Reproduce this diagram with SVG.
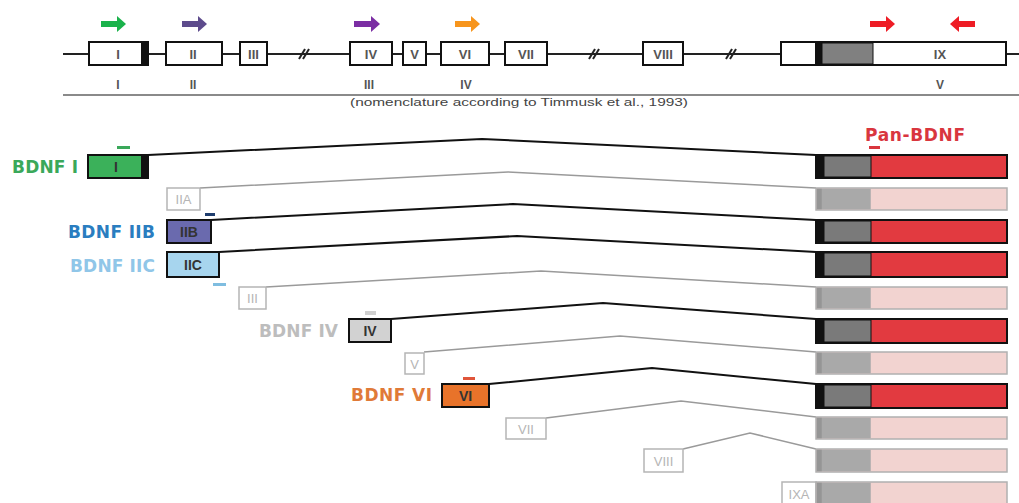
<svg xmlns="http://www.w3.org/2000/svg" width="1019" height="503" viewBox="0 0 1019 503">
<defs>
<style>
.gl{stroke:#222;stroke-width:2;fill:none}
.ex{fill:#fff;stroke:#111;stroke-width:2}
.et{font-family:"Liberation Sans",Arial,sans-serif;font-size:13px;font-weight:bold;fill:#555;text-anchor:middle}
.nt{font-family:"Liberation Sans",Arial,sans-serif;font-size:12px;font-weight:bold;fill:#555;text-anchor:middle}
.lab{font-family:"DejaVu Sans",sans-serif;font-size:17px;font-weight:bold;text-anchor:start}
.bx{stroke:#111;stroke-width:2}
.fbx{fill:#fff;stroke:#b5b5b5;stroke-width:1.5}
.ft{font-family:"Liberation Sans",Arial,sans-serif;font-size:13px;fill:#b5b5b5;text-anchor:middle}
.dt{font-family:"Liberation Sans",Arial,sans-serif;font-size:14px;font-weight:bold;fill:#333;text-anchor:middle}
.con{fill:none;stroke:#111;stroke-width:2}
.fcon{fill:none;stroke:#9a9a9a;stroke-width:1.5}
</style>
</defs>
<rect width="1019" height="503" fill="#fff"/>

<g id="genome">
<line x1="63" y1="54" x2="1019" y2="54" class="gl"/>
<g stroke="#222" stroke-width="2">
<line x1="299" y1="59" x2="305" y2="49"/><line x1="303" y1="59" x2="309" y2="49"/>
<line x1="589" y1="59" x2="595" y2="49"/><line x1="593" y1="59" x2="599" y2="49"/>
<line x1="726" y1="59" x2="732" y2="49"/><line x1="730" y1="59" x2="736" y2="49"/>
</g>
<rect x="89" y="42" width="59" height="23" class="ex"/>
<rect x="141" y="42" width="7" height="23" fill="#111"/>
<text x="118" y="58.5" class="et">I</text>
<rect x="166" y="42" width="56" height="23" class="ex"/>
<text x="193" y="58.5" class="et">II</text>
<rect x="240" y="42" width="27" height="23" class="ex"/>
<text x="253.5" y="58.5" class="et">III</text>
<rect x="350" y="42" width="42" height="23" class="ex"/>
<text x="371" y="58.5" class="et">IV</text>
<rect x="403" y="42" width="23" height="23" class="ex"/>
<text x="414.5" y="58.5" class="et">V</text>
<rect x="441" y="42" width="48" height="23" class="ex"/>
<text x="465" y="58.5" class="et">VI</text>
<rect x="505" y="42" width="42" height="23" class="ex"/>
<text x="526" y="58.5" class="et">VII</text>
<rect x="643" y="42" width="40" height="23" class="ex"/>
<text x="663" y="58.5" class="et">VIII</text>
<rect x="781" y="42" width="225" height="23" class="ex"/>
<rect x="815" y="43" width="7" height="21" fill="#111"/>
<rect x="822" y="43" width="51" height="21" fill="#808080" stroke="#111" stroke-width="1"/>
<text x="940" y="58.5" class="et">IX</text>
</g>

<g id="primers-top">
<path d="M101,21 h16 v-5 l9,8 l-9,8 v-5 h-16 z" fill="#1ab24b"/>
<path d="M182,21 h16 v-5 l9,8 l-9,8 v-5 h-16 z" fill="#5d4b8c"/>
<path d="M354,21 h17 v-5 l9,8 l-9,8 v-5 h-17 z" fill="#7b2ea3"/>
<path d="M455,21 h16 v-5 l9,8 l-9,8 v-5 h-16 z" fill="#f7951d"/>
<path d="M870,21 h16 v-5 l9,8 l-9,8 v-5 h-16 z" fill="#ee1c25"/>
<path d="M975,21 h-16 v-5 l-9,8 l9,8 v-5 h16 z" fill="#ee1c25"/>
</g>

<g id="old-nomenclature">
<text x="118" y="89" class="nt">I</text>
<text x="193" y="89" class="nt">II</text>
<text x="369" y="89" class="nt">III</text>
<text x="466" y="89" class="nt">IV</text>
<text x="940" y="89" class="nt">V</text>
<line x1="63" y1="95" x2="1019" y2="95" stroke="#8a8a8a" stroke-width="2"/>
<text x="350" y="106" font-family="Liberation Sans,Arial,sans-serif" font-size="11" fill="#444" textLength="338" lengthAdjust="spacingAndGlyphs">(nomenclature according to Timmusk et al., 1993)</text>
</g>

<g id="connectors">
<polyline points="148,155 482,139 816,155" class="con"/>
<polyline points="200,188 508,172 816,188" class="fcon"/>
<polyline points="211,220 513,204 816,220" class="con"/>
<polyline points="219,252 517,236 816,252" class="con"/>
<polyline points="266,287 541,271 816,287" class="fcon"/>
<polyline points="391,319 603,303 816,319" class="con"/>
<polyline points="424,352 620,336 816,352" class="fcon"/>
<polyline points="489,384 652,368 816,384" class="con"/>
<polyline points="546,418 681,401 816,417" class="fcon"/>
<polyline points="683,449 750,433 816,449" class="fcon"/>
</g>

<g id="bdnf-I">
<text x="12" y="173" class="lab" fill="#3aa85a" textLength="66" lengthAdjust="spacing">BDNF I</text>
<rect x="88" y="155" width="60" height="23" class="bx" fill="#3bb15a"/>
<rect x="141" y="155" width="7" height="23" fill="#111"/>
<text x="116" y="172" class="dt">I</text>
<rect x="117" y="146" width="13" height="3" fill="#3aa85a"/>
</g>
<g id="exon-IIA">
<rect x="167" y="188" width="33" height="22" class="fbx"/>
<text x="183.5" y="204" class="ft">IIA</text>
</g>
<g id="bdnf-IIB">
<text x="68" y="238" class="lab" fill="#2a7dc0" textLength="87" lengthAdjust="spacing">BDNF IIB</text>
<rect x="167" y="220" width="44" height="23" class="bx" fill="#6a6aae"/>
<text x="189" y="237" class="dt">IIB</text>
<rect x="205" y="213" width="10" height="3" fill="#1f3d6e"/>
</g>
<g id="bdnf-IIC">
<text x="70" y="272" class="lab" fill="#90c6e8" textLength="85" lengthAdjust="spacing">BDNF IIC</text>
<rect x="167" y="252" width="52" height="25" class="bx" fill="#a7d5ee"/>
<text x="193" y="270" class="dt">IIC</text>
<rect x="213" y="283" width="13" height="3" fill="#7fbde0"/>
</g>
<g id="exon-III">
<rect x="239" y="287" width="27" height="22" class="fbx"/>
<text x="252.5" y="303" class="ft">III</text>
</g>
<g id="bdnf-IV">
<text x="259" y="337" class="lab" fill="#bdbdbd" textLength="79" lengthAdjust="spacing">BDNF IV</text>
<rect x="349" y="319" width="42" height="23" class="bx" fill="#d2d2d2"/>
<text x="370" y="336" class="dt">IV</text>
<rect x="365" y="311" width="11" height="4" fill="#d0d0d0"/>
</g>
<g id="exon-V">
<rect x="405" y="353" width="19" height="21" class="fbx"/>
<text x="414.5" y="368.5" class="ft">V</text>
</g>
<g id="bdnf-VI">
<text x="351" y="401" class="lab" fill="#e07a38" textLength="81" lengthAdjust="spacing">BDNF VI</text>
<rect x="442" y="384" width="47" height="23" class="bx" fill="#e8732a"/>
<text x="465.5" y="401" class="dt">VI</text>
<rect x="463" y="377" width="12" height="3" fill="#e0553a"/>
</g>
<g id="exon-VII">
<rect x="506" y="418" width="40" height="21" class="fbx"/>
<text x="526" y="433.5" class="ft">VII</text>
</g>
<g id="exon-VIII">
<rect x="644" y="449" width="39" height="23" class="fbx"/>
<text x="663.5" y="465.5" class="ft">VIII</text>
</g>
<g id="exon-IXA">
<rect x="782" y="482" width="34" height="23" class="fbx"/>
<text x="799" y="498.5" class="ft">IXA</text>
</g>

<g id="pan-bdnf">
<text x="865" y="141" class="lab" fill="#d9363e" textLength="100" lengthAdjust="spacing">Pan-BDNF</text>
<rect x="869" y="146" width="11" height="3" fill="#d9363e"/>
</g>

<g id="exon-IX-rows">
<g id="r1"><rect x="816" y="155" width="191" height="23" fill="#e23a40" stroke="#111" stroke-width="2"/><rect x="824" y="156" width="47" height="21" fill="#7a7a7a" stroke="#111" stroke-width="1"/><rect x="816" y="155" width="8" height="23" fill="#111"/></g>
<g id="r2"><rect x="816" y="188" width="191" height="22" fill="#f2d3d0" stroke="#b0b0b0" stroke-width="1.5"/><rect x="816.75" y="188.75" width="54" height="20.5" fill="#a9a9a9"/><rect x="816.75" y="188.75" width="5" height="20.5" fill="#959595"/></g>
<g id="r3"><rect x="816" y="220" width="191" height="23" fill="#e23a40" stroke="#111" stroke-width="2"/><rect x="824" y="221" width="47" height="21" fill="#7a7a7a" stroke="#111" stroke-width="1"/><rect x="816" y="220" width="8" height="23" fill="#111"/></g>
<g id="r4"><rect x="816" y="252" width="191" height="25" fill="#e23a40" stroke="#111" stroke-width="2"/><rect x="824" y="253" width="47" height="23" fill="#7a7a7a" stroke="#111" stroke-width="1"/><rect x="816" y="252" width="8" height="25" fill="#111"/></g>
<g id="r5"><rect x="816" y="287" width="191" height="22" fill="#f2d3d0" stroke="#b0b0b0" stroke-width="1.5"/><rect x="816.75" y="287.75" width="54" height="20.5" fill="#a9a9a9"/><rect x="816.75" y="287.75" width="5" height="20.5" fill="#959595"/></g>
<g id="r6"><rect x="816" y="319" width="191" height="24" fill="#e23a40" stroke="#111" stroke-width="2"/><rect x="824" y="320" width="47" height="22" fill="#7a7a7a" stroke="#111" stroke-width="1"/><rect x="816" y="319" width="8" height="24" fill="#111"/></g>
<g id="r7"><rect x="816" y="352" width="191" height="22" fill="#f2d3d0" stroke="#b0b0b0" stroke-width="1.5"/><rect x="816.75" y="352.75" width="54" height="20.5" fill="#a9a9a9"/><rect x="816.75" y="352.75" width="5" height="20.5" fill="#959595"/></g>
<g id="r8"><rect x="816" y="384" width="191" height="24" fill="#e23a40" stroke="#111" stroke-width="2"/><rect x="824" y="385" width="47" height="22" fill="#7a7a7a" stroke="#111" stroke-width="1"/><rect x="816" y="384" width="8" height="24" fill="#111"/></g>
<g id="r9"><rect x="816" y="417" width="191" height="22" fill="#f2d3d0" stroke="#b0b0b0" stroke-width="1.5"/><rect x="816.75" y="417.75" width="54" height="20.5" fill="#a9a9a9"/><rect x="816.75" y="417.75" width="5" height="20.5" fill="#959595"/></g>
<g id="r10"><rect x="816" y="449" width="191" height="23" fill="#f2d3d0" stroke="#b0b0b0" stroke-width="1.5"/><rect x="816.75" y="449.75" width="54" height="21.5" fill="#a9a9a9"/><rect x="816.75" y="449.75" width="5" height="21.5" fill="#959595"/></g>
<g id="r11"><rect x="816" y="482" width="191" height="23" fill="#f2d3d0" stroke="#b0b0b0" stroke-width="1.5"/><rect x="816.75" y="482.75" width="54" height="21.5" fill="#a9a9a9"/><rect x="816.75" y="482.75" width="5" height="21.5" fill="#959595"/></g>
</g>
</svg>
